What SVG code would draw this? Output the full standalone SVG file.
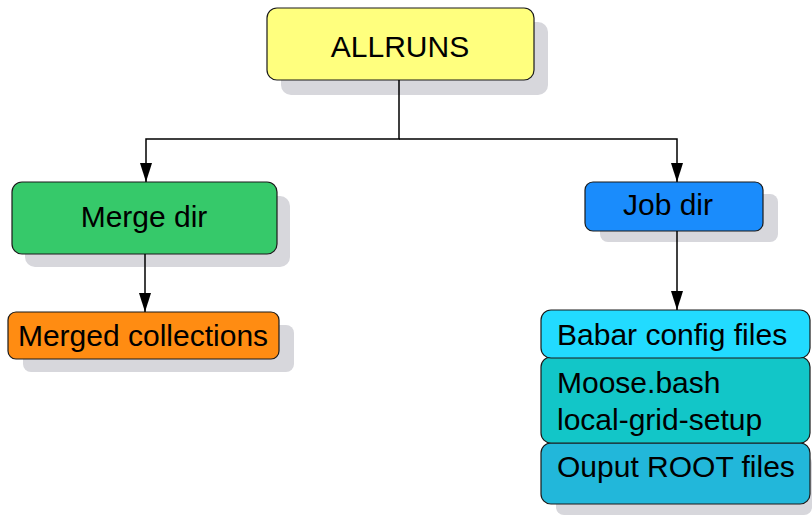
<svg xmlns="http://www.w3.org/2000/svg" width="812" height="517" viewBox="0 0 812 517">
  <defs>
    <marker id="arrow" markerWidth="20" markerHeight="12" refX="19" refY="6" orient="auto" markerUnits="userSpaceOnUse" viewBox="0 0 20 12">
      <path d="M0,0 L19,6 L0,12 Z" fill="#000"/>
    </marker>
  </defs>
  <style>
    .shadow { fill: #d7d7dc; }
    .box { stroke: #1a1a1a; stroke-width: 1.2; }
    .label { font-family: "Liberation Sans", Arial, sans-serif; font-size: 30px; fill: #000; }
    .conn { stroke: #000; stroke-width: 1.5; fill: none; }
  </style>
  <rect width="812" height="517" fill="#fff"/>

  <g id="allruns">
    <rect class="shadow" x="281" y="22" width="267" height="73" rx="10"/>
    <rect class="box" x="267" y="8" width="267" height="72" rx="10" fill="#ffff7e"/>
    <text class="label" x="400" y="57" text-anchor="middle">ALLRUNS</text>
  </g>

  <g id="merge-dir">
    <rect class="shadow" x="25" y="196" width="265" height="71" rx="10"/>
    <rect class="box" x="12" y="182" width="265" height="72" rx="10" fill="#36c96a"/>
    <text class="label" x="144" y="227" text-anchor="middle">Merge dir</text>
  </g>

  <g id="merged-collections">
    <rect class="shadow" x="23" y="325" width="271" height="47" rx="8"/>
    <rect class="box" x="8" y="312" width="271" height="47" rx="8" fill="#ff8c12"/>
    <text class="label" x="143" y="346" text-anchor="middle">Merged collections</text>
  </g>

  <g id="job-dir">
    <rect class="shadow" x="600" y="194" width="178" height="48" rx="8"/>
    <rect class="box" x="585" y="182" width="178" height="49" rx="8" fill="#1a8cfc"/>
    <text class="label" x="668" y="215" text-anchor="middle">Job dir</text>
  </g>

  <g id="job-contents">
    <rect class="shadow" x="556" y="455" width="256" height="60" rx="8"/>
    <rect class="box" x="541" y="443" width="269" height="61" rx="10" fill="#22b7da"/>
    <text class="label" x="557" y="477">Ouput ROOT files</text>
    <rect class="box" x="541" y="357" width="269" height="86" rx="10" fill="#12c6c8"/>
    <text class="label" x="557" y="393">Moose.bash</text>
    <text class="label" x="557" y="430">local-grid-setup</text>
    <rect class="box" x="541" y="310" width="269" height="48" rx="10" fill="#22dbff"/>
    <text class="label" x="557" y="345">Babar config files</text>
  </g>

  <g id="connectors">
    <path class="conn" d="M399,80 V139 H146 V182" marker-end="url(#arrow)"/>
    <path class="conn" d="M399,139 H677 V182" marker-end="url(#arrow)"/>
    <path class="conn" d="M145,254 V312" marker-end="url(#arrow)"/>
    <path class="conn" d="M677,231 V310" marker-end="url(#arrow)"/>
  </g>
</svg>
